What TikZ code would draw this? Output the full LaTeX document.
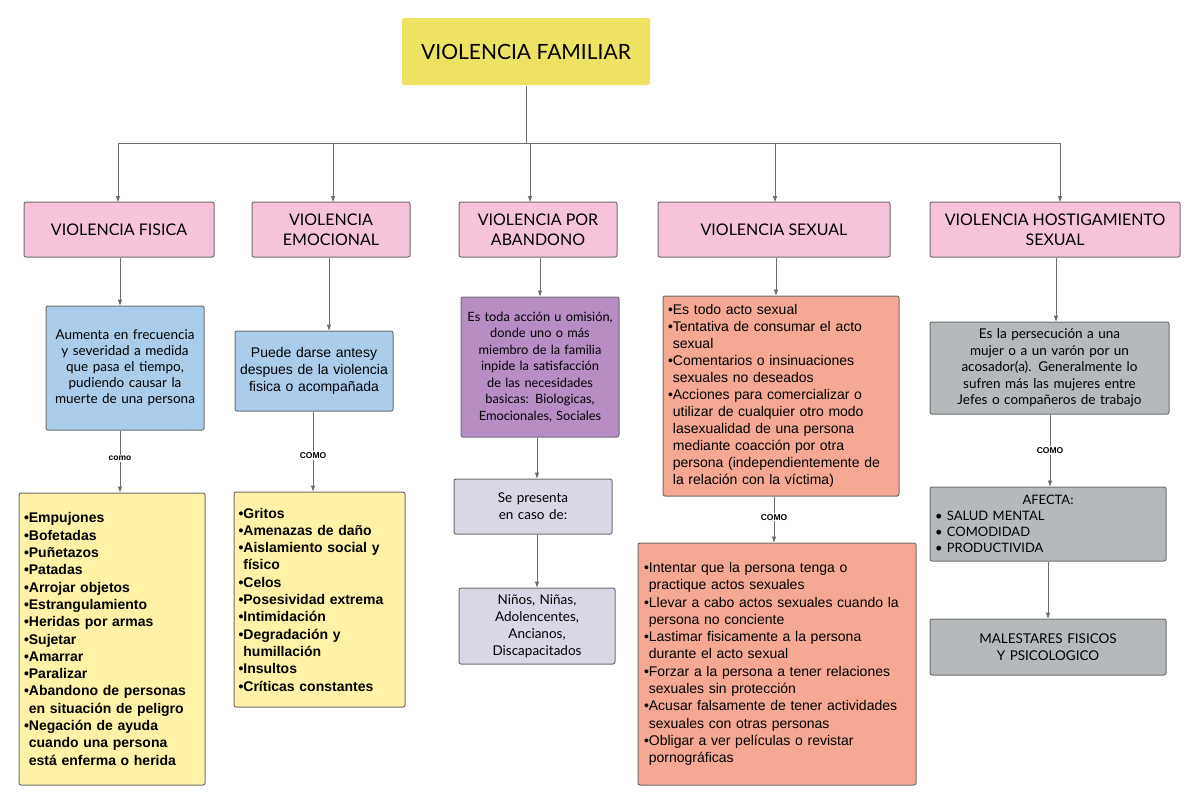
\documentclass[tikz,border=0pt]{standalone}
\usepackage{fontspec}
\setmainfont{Lato}
\newfontfamily\arialf{Liberation Sans}
\usetikzlibrary{arrows.meta}
\definecolor{ttl}{HTML}{EDE264}
\definecolor{pk}{HTML}{F6C3DA}
\definecolor{bl}{HTML}{AACDEB}
\definecolor{pu}{HTML}{B68EC4}
\definecolor{sa}{HTML}{F5A993}
\definecolor{gr}{HTML}{B6B9BB}
\definecolor{ye}{HTML}{FFF1A6}
\definecolor{la}{HTML}{D9D6E6}
\definecolor{ln}{HTML}{6E6E6E}
\begin{document}
\hyphenpenalty=10000 \exhyphenpenalty=10000
\begin{tikzpicture}[x=1pt,y=-1pt,
 bx/.style={draw=ln,line width=1pt,rounded corners=2pt,align=center,inner sep=2pt,font=\fontsize{16}{20}\selectfont},
 ls/.style={bx,align=left},
 ar/.style={draw=ln,line width=0.8pt,-{Triangle[length=6pt,width=4pt]}},
 como/.style={font=\arialf\bfseries\fontsize{8.5}{9}\selectfont,fill=white,inner sep=1pt}]
\useasboundingbox (0,0) rectangle (1200,803);
\node[bx,fill=ttl,draw=none,minimum width=248,minimum height=67,font=\fontsize{21}{24}\selectfont] (t) at (526,51.5) {VIOLENCIA FAMILIAR};
\node[bx,fill=pk,minimum width=190,minimum height=55] (a) at (119,229.5) {VIOLENCIA FISICA};
\node[bx,fill=pk,minimum width=158,minimum height=55] (b) at (331,229.5) {VIOLENCIA\\EMOCIONAL};
\node[bx,fill=pk,minimum width=158,minimum height=55] (c) at (538,229.5) {VIOLENCIA POR\\ABANDONO};
\node[bx,fill=pk,minimum width=232,minimum height=55] (d) at (774,229.5) {VIOLENCIA SEXUAL};
\node[bx,fill=pk,minimum width=250,minimum height=55] (e) at (1055,229.5) {VIOLENCIA HOSTIGAMIENTO\\SEXUAL};
\coordinate (h) at (526,143);
\draw[draw=ln,line width=0.8pt] (t.south) -- (h);
\foreach \x in {118,333,530,775,1060}{\draw[ar] (h) -| (\x,202);}
\node[bx,fill=bl,minimum width=158,minimum height=124,text width=152,font=\fontsize{13.5}{16}\selectfont] (a2) at (125,368) {Aumenta en frecuencia y severidad a medida que pasa el tiempo, pudiendo causar la muerte de una persona};
\node[bx,fill=bl,minimum width=158,minimum height=80,text width=150,font=\arialf\fontsize{14}{17}\selectfont] (b2) at (314,371) {Puede darse antesy despues de la violencia fisica o acompañada};
\node[bx,fill=pu,minimum width=158,minimum height=140,text width=154,font=\fontsize{12.8}{16.5}\selectfont] (c2) at (540,367) {Es toda acción u omisión, donde uno o más miembro de la familia inpide la satisfacción de las necesidades basicas: Biologicas, Emocionales, Sociales};
\node[ls,fill=sa,minimum width=236,minimum height=200,text width=226,font=\arialf\fontsize{14}{17}\selectfont] (d2) at (781,396) {•Es todo acto sexual\\•Tentativa de consumar el acto\\\phantom{•}sexual\\•Comentarios o insinuaciones\\\phantom{•}sexuales no deseados\\•Acciones para comercializar o\\\phantom{•}utilizar de cualquier otro modo\\\phantom{•}lasexualidad de una persona\\\phantom{•}mediante coacción por otra\\\phantom{•}persona (independientemente de\\\phantom{•}la relación con la víctima)};
\node[bx,fill=gr,minimum width=239,minimum height=92,text width=232,font=\fontsize{13.5}{16.5}\selectfont] (e2) at (1049.5,368) {Es la persecución a una mujer o a un varón por un acosador(a). Generalmente lo sufren más las mujeres entre Jefes o compañeros de trabajo};
\node[ls,fill=ye,minimum width=186,minimum height=292,text width=176,font=\arialf\bfseries\fontsize{14}{17.3}\selectfont] (a3) at (112,639) {•Empujones\\•Bofetadas\\•Puñetazos\\•Patadas\\•Arrojar objetos\\•Estrangulamiento\\•Heridas por armas\\•Sujetar\\•Amarrar\\•Paralizar\\•Abandono de personas\\\phantom{•}en situación de peligro\\•Negación de ayuda\\\phantom{•}cuando una persona\\\phantom{•}está enferma o herida};
\node[ls,fill=ye,minimum width=171,minimum height=215,text width=162,font=\arialf\bfseries\fontsize{14}{17.3}\selectfont] (b3) at (319.5,599.5) {•Gritos\\•Amenazas de daño\\•Aislamiento social y\\\phantom{•}físico\\•Celos\\•Posesividad extrema\\•Intimidación\\•Degradación y\\\phantom{•}humillación\\•Insultos\\•Críticas constantes};
\node[bx,fill=la,minimum width=158,minimum height=55,text width=140,font=\fontsize{13.5}{17}\selectfont] (c3) at (533,506.5) {Se presenta en caso de:};
\node[ls,fill=sa,minimum width=278,minimum height=242,text width=266,font=\arialf\fontsize{14}{17.3}\selectfont] (d3) at (777,664) {•Intentar que la persona tenga o\\\phantom{•}practique actos sexuales\\•Llevar a cabo actos sexuales cuando la\\\phantom{•}persona no conciente\\•Lastimar fisicamente a la persona\\\phantom{•}durante el acto sexual\\•Forzar a la persona a tener relaciones\\\phantom{•}sexuales sin protección\\•Acusar falsamente de tener actividades\\\phantom{•}sexuales con otras personas\\•Obligar a ver películas o revistar\\\phantom{•}pornográficas};
\node[ls,fill=gr,minimum width=236,minimum height=74,text width=226,font=\fontsize{13}{16}\selectfont] (e3) at (1048,524) {\centering AFECTA:\\\raggedright • SALUD MENTAL\\• COMODIDAD\\• PRODUCTIVIDA};
\node[bx,fill=la,minimum width=156,minimum height=76,text width=140,font=\fontsize{13.5}{17}\selectfont] (c4) at (537,626) {Niños, Niñas, Adolencentes, Ancianos, Discapacitados};
\node[bx,fill=gr,minimum width=236,minimum height=56,text width=200,font=\fontsize{13.5}{17}\selectfont] (e4) at (1048,647) {MALESTARES FISICOS Y PSICOLOGICO};
\foreach \x/\p/\q in {120/a/a2,329/b/b2,540/c/c2,776/d/d2,1056/e/e2}{
  \coordinate (tx) at (\x,0);
  \draw[ar] (\p.south -| tx) -- (\q.north -| tx);}
\coordinate (x1) at (120,0);\coordinate (x2) at (313,0);\coordinate (x3) at (537,0);
\coordinate (x4) at (774,0);\coordinate (x5) at (1050,0);\coordinate (x6) at (1048,0);
\draw[ar] (a2.south -| x1) -- node[como,pos=0.45]{como} (a3.north -| x1);
\draw[ar] (b2.south -| x2) -- node[como,pos=0.55]{COMO} (b3.north -| x2);
\draw[ar] (c2.south -| x3) -- (c3.north -| x3);
\draw[ar] (c3.south -| x3) -- (c4.north -| x3);
\draw[ar] (d2.south -| x4) -- node[como,pos=0.45]{COMO} (d3.north -| x4);
\draw[ar] (e2.south -| x5) -- node[como,pos=0.5]{COMO} (e3.north -| x5);
\draw[ar] (e3.south -| x6) -- (e4.north -| x6);
\end{tikzpicture}
\end{document}
